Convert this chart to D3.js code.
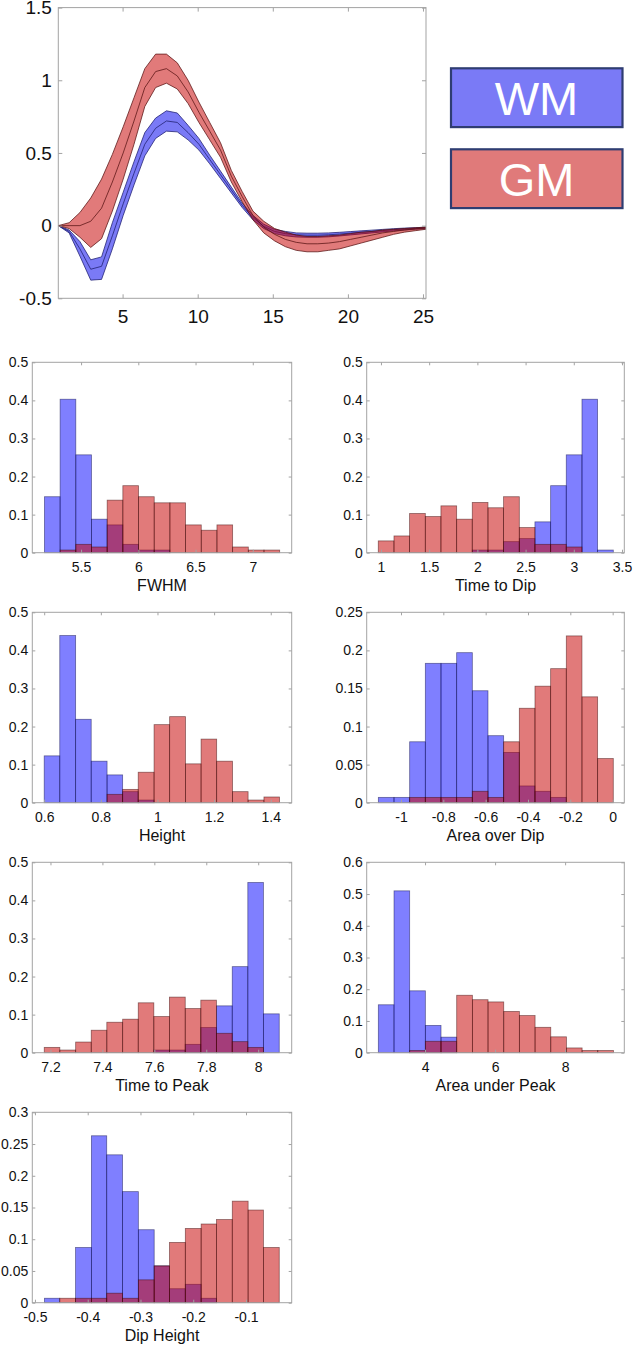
<!DOCTYPE html>
<html>
<head>
<meta charset="utf-8">
<script src="https://cdn.jsdelivr.net/npm/d3@7"></script>
<style>
  html, body { margin: 0; padding: 0; background: #fff; }
  svg { display: block; }
  text { font-family: "Liberation Sans", Arial, Helvetica, sans-serif; fill: #111; }
</style>
</head>
<body>
<svg id="chart" width="633" height="1345"></svg>
<script>
// ---------------- Top chart data (HRF shape) ----------------
const timePoints = [0.72, 1.44, 2.16, 2.88, 3.6, 4.32, 5.04, 5.76, 6.48, 7.2, 7.92, 8.64, 9.36, 10.08, 10.8,
  11.52, 12.24, 12.96, 13.68, 14.4, 15.12, 15.84, 16.56, 17.28, 18.0, 18.72, 19.44, 20.16, 20.88, 21.6,
  22.32, 23.04, 23.76, 24.48, 25.2];
const wmMean = [0, -0.04, -0.16, -0.30, -0.28, -0.07, 0.15, 0.36, 0.56, 0.67, 0.72, 0.71, 0.64, 0.56, 0.455,
  0.35, 0.245, 0.14, 0.055, -0.005, -0.04, -0.055, -0.063, -0.066, -0.066, -0.063, -0.058, -0.052, -0.046, -0.04,
  -0.034, -0.028, -0.023, -0.019, -0.016];
const wmLower = [0, -0.05, -0.21, -0.375, -0.37, -0.16, 0.07, 0.28, 0.48, 0.60, 0.65, 0.645, 0.59, 0.52, 0.425,
  0.325, 0.225, 0.125, 0.04, -0.02, -0.055, -0.07, -0.078, -0.08, -0.08, -0.077, -0.071, -0.064, -0.057, -0.05,
  -0.043, -0.036, -0.03, -0.025, -0.021];
const wmUpper = [0, -0.03, -0.11, -0.235, -0.215, 0.02, 0.23, 0.44, 0.64, 0.74, 0.79, 0.775, 0.69, 0.60, 0.485,
  0.375, 0.265, 0.155, 0.07, 0.01, -0.025, -0.04, -0.05, -0.052, -0.052, -0.05, -0.046, -0.041, -0.036, -0.031,
  -0.026, -0.021, -0.017, -0.014, -0.011];
const gmMean = [0, 0.0, 0.0, 0.03, 0.12, 0.30, 0.50, 0.72, 0.95, 1.06, 1.08, 1.03, 0.92, 0.78, 0.65,
  0.52, 0.34, 0.20, 0.07, -0.01, -0.06, -0.095, -0.115, -0.125, -0.125, -0.12, -0.11, -0.095, -0.08, -0.065,
  -0.05, -0.04, -0.03, -0.022, -0.016];
const gmLower = [0, -0.02, -0.08, -0.15, -0.09, 0.10, 0.32, 0.56, 0.82, 0.95, 0.98, 0.94, 0.84, 0.71, 0.59,
  0.47, 0.30, 0.165, 0.04, -0.05, -0.105, -0.145, -0.17, -0.18, -0.18, -0.17, -0.16, -0.14, -0.12, -0.10,
  -0.08, -0.06, -0.045, -0.035, -0.025];
const gmUpper = [0, 0.02, 0.09, 0.19, 0.32, 0.49, 0.68, 0.88, 1.08, 1.18, 1.18, 1.12, 1.00, 0.85, 0.71,
  0.57, 0.38, 0.235, 0.10, 0.03, -0.02, -0.045, -0.065, -0.075, -0.075, -0.07, -0.065, -0.055, -0.045, -0.04,
  -0.03, -0.025, -0.02, -0.015, -0.01];
const topXLimits = [0.72, 25.2];
const topYLimits = [-0.5, 1.5];
const topXTicks = [5, 10, 15, 20, 25];
const topYTicks = [-0.5, 0, 0.5, 1, 1.5];
const legendLabels = ["WM", "GM"];

// ---------------- Histogram data ----------------
const histTitles = ["FWHM", "Time to Dip", "Height", "Area over Dip", "Time to Peak", "Area under Peak", "Dip Height"];

const fwhmEdges = [5.180, 5.317, 5.454, 5.591, 5.728, 5.865, 6.002, 6.139, 6.276, 6.413, 6.550, 6.687, 6.824, 6.961, 7.098, 7.235];
const fwhmWM = [0.147, 0.403, 0.257, 0.088, 0.073, 0.022, 0.007, 0.007, 0, 0, 0, 0, 0, 0, 0];
const fwhmGM = [0, 0.007, 0.022, 0.015, 0.138, 0.176, 0.147, 0.131, 0.131, 0.073, 0.059, 0.073, 0.015, 0.007, 0.007];
const fwhmXLim = [5.074, 7.34];
const fwhmXTicks = [5.5, 6, 6.5, 7];

const dipTimeEdges = [0.972, 1.135, 1.297, 1.460, 1.622, 1.785, 1.947, 2.110, 2.272, 2.435, 2.597, 2.760, 2.922, 3.085, 3.247, 3.410];
const dipTimeWM = [0, 0, 0, 0, 0, 0, 0.007, 0.007, 0.029, 0.037, 0.081, 0.176, 0.257, 0.403, 0.007];
const dipTimeGM = [0.031, 0.044, 0.103, 0.095, 0.123, 0.088, 0.132, 0.118, 0.147, 0.066, 0.022, 0.022, 0.015, 0, 0];
const dipTimeXLim = [0.852, 3.524];
const dipTimeXTicks = [1, 1.5, 2, 2.5, 3, 3.5];

const heightEdges = [0.600, 0.655, 0.711, 0.766, 0.822, 0.877, 0.932, 0.988, 1.043, 1.099, 1.154, 1.209, 1.265, 1.320, 1.376, 1.431];
const heightWM = [0.123, 0.439, 0.219, 0.109, 0.073, 0.029, 0.007, 0, 0, 0, 0, 0, 0, 0, 0];
const heightGM = [0, 0, 0, 0, 0.022, 0.035, 0.080, 0.205, 0.226, 0.102, 0.167, 0.109, 0.029, 0.007, 0.015];
const heightXLim = [0.558, 1.474];
const heightXTicks = [0.6, 0.8, 1, 1.2, 1.4];

const areaDipEdges = [-1.107, -1.033, -0.959, -0.885, -0.811, -0.737, -0.663, -0.589, -0.515, -0.441, -0.367, -0.293, -0.219, -0.145, -0.071, 0.003];
const areaDipWM = [0.007, 0.007, 0.080, 0.183, 0.183, 0.197, 0.147, 0.088, 0.066, 0.022, 0.015, 0.007, 0, 0, 0];
const areaDipGM = [0, 0, 0.007, 0.007, 0.007, 0.007, 0.015, 0.007, 0.080, 0.124, 0.153, 0.176, 0.219, 0.139, 0.058];
const areaDipXLim = [-1.162, 0.055];
const areaDipXTicks = [-1, -0.8, -0.6, -0.4, -0.2, 0];

const peakTimeEdges = [7.176, 7.236, 7.297, 7.357, 7.417, 7.478, 7.538, 7.598, 7.658, 7.719, 7.779, 7.839, 7.900, 7.960, 8.020, 8.081];
const peakTimeWM = [0, 0, 0, 0, 0, 0, 0, 0.007, 0.007, 0.022, 0.066, 0.123, 0.226, 0.447, 0.102];
const peakTimeGM = [0.014, 0.007, 0.028, 0.059, 0.080, 0.088, 0.131, 0.095, 0.146, 0.116, 0.138, 0.051, 0.029, 0.014, 0];
const peakTimeXLim = [7.13, 8.129];
const peakTimeXTicks = [7.2, 7.4, 7.6, 7.8, 8];

const areaPeakEdges = [2.666, 3.114, 3.561, 4.009, 4.456, 4.904, 5.352, 5.799, 6.247, 6.694, 7.142, 7.590, 8.037, 8.485, 8.932, 9.380];
const areaPeakWM = [0.151, 0.510, 0.195, 0.086, 0.049, 0, 0, 0, 0, 0, 0, 0, 0, 0, 0];
const areaPeakGM = [0, 0, 0.007, 0.036, 0.036, 0.181, 0.167, 0.160, 0.130, 0.117, 0.080, 0.050, 0.015, 0.007, 0.007];
const areaPeakXLim = [2.334, 9.69];
const areaPeakXTicks = [4, 6, 8];

const dipHeightEdges = [-0.482, -0.453, -0.423, -0.393, -0.364, -0.334, -0.304, -0.274, -0.245, -0.215, -0.185, -0.156, -0.126, -0.096, -0.067, -0.037];
const dipHeightWM = [0.007, 0, 0.087, 0.263, 0.233, 0.175, 0.115, 0.058, 0.022, 0.029, 0.007, 0, 0, 0, 0];
const dipHeightGM = [0, 0.007, 0.007, 0.007, 0.015, 0.007, 0.036, 0.058, 0.095, 0.117, 0.124, 0.131, 0.160, 0.146, 0.087];
const dipHeightXLim = [-0.505, -0.0134];
const dipHeightXTicks = [-0.5, -0.4, -0.3, -0.2, -0.1];

const yLim05 = [0, 0.5];
const yTicks05 = [0, 0.1, 0.2, 0.3, 0.4, 0.5];
const yLim025 = [0, 0.25];
const yTicks025 = [0, 0.05, 0.1, 0.15, 0.2, 0.25];
const yLim06 = [0, 0.6];
const yTicks06 = [0, 0.1, 0.2, 0.3, 0.4, 0.5, 0.6];
const yLim03 = [0, 0.3];
const yTicks03 = [0, 0.05, 0.1, 0.15, 0.2, 0.25, 0.3];

// ---------------- Styling / layout ----------------
const FRAME = "#a3a3a3";
const fmt = d => String(+(+d).toFixed(3));
const svg = d3.select("#chart");

function styleAxis(g, fontSize) {
  g.select(".domain").remove();
  g.selectAll(".tick line").attr("stroke", FRAME).attr("stroke-width", 1);
  g.selectAll(".tick text").attr("font-size", fontSize).attr("fill", "#111")
    .attr("font-family", '"Liberation Sans", Arial, sans-serif');
}

function drawFrame(g, x0, y0, x1, y1, xScale, yScale, xTicks, yTicks, opt) {
  const tl = opt.tickLen;
  const bottom = g.append("g").attr("transform", `translate(0,${y1})`)
    .call(d3.axisBottom(xScale).tickValues(xTicks).tickSize(-tl).tickPadding(opt.xPad).tickFormat(fmt));
  styleAxis(bottom, opt.fontSize);
  const top = g.append("g").attr("transform", `translate(0,${y0})`)
    .call(d3.axisTop(xScale).tickValues(xTicks).tickSize(-tl).tickFormat(""));
  styleAxis(top, opt.fontSize);
  const left = g.append("g").attr("transform", `translate(${x0},0)`)
    .call(d3.axisLeft(yScale).tickValues(yTicks).tickSize(-tl).tickPadding(opt.yPad).tickFormat(fmt));
  styleAxis(left, opt.fontSize);
  const right = g.append("g").attr("transform", `translate(${x1},0)`)
    .call(d3.axisRight(yScale).tickValues(yTicks).tickSize(-tl).tickFormat(""));
  styleAxis(right, opt.fontSize);
  g.append("rect").attr("x", x0).attr("y", y0).attr("width", x1 - x0).attr("height", y1 - y0)
    .attr("fill", "none").attr("stroke", FRAME).attr("stroke-width", 1);
}

// ---------------- Top chart ----------------
(function () {
  const x0 = 58.3, x1 = 426, y0 = 7.6, y1 = 298.3;
  const x = d3.scaleLinear().domain(topXLimits).range([x0, x1]);
  const y = d3.scaleLinear().domain(topYLimits).range([y1, y0]);
  const g = svg.append("g");
  const idx = d3.range(timePoints.length);

  const series = [
    { lo: wmLower, hi: wmUpper, mean: wmMean, fill: "rgb(0,0,238)", op: 0.52, line: "#1e1e6e" },
    { lo: gmLower, hi: gmUpper, mean: gmMean, fill: "rgb(198,0,0)", op: 0.52, line: "#5a1414" }
  ];
  series.forEach(s => {
    const area = d3.area().x(i => x(timePoints[i])).y0(i => y(s.lo[i])).y1(i => y(s.hi[i]));
    g.append("path").attr("d", area(idx)).attr("fill", s.fill).attr("fill-opacity", s.op).attr("stroke", "none");
    [s.lo, s.hi, s.mean].forEach(arr => {
      const line = d3.line().x(i => x(timePoints[i])).y(i => y(arr[i]));
      g.append("path").attr("d", line(idx)).attr("fill", "none")
        .attr("stroke", s.line).attr("stroke-width", 0.9).attr("stroke-opacity", 0.85);
    });
  });

  drawFrame(g, x0, y0, x1, y1, x, y, topXTicks, topYTicks, { tickLen: 4, fontSize: 19, xPad: 11.5, yPad: 6.5 });

  // Legend
  const legendFills = ["rgb(122,122,246)", "rgb(224,122,122)"];
  const boxTop = [68.3, 149.3];
  legendLabels.forEach((lab, i) => {
    svg.append("rect").attr("x", 451).attr("y", boxTop[i]).attr("width", 171.5).attr("height", 58.8)
      .attr("fill", legendFills[i]).attr("stroke", "#2f3d72").attr("stroke-width", 2.2);
    svg.append("text").attr("x", 536.5).attr("y", boxTop[i] + 46.5).attr("text-anchor", "middle")
      .attr("font-family", 'Lato, "Open Sans", sans-serif').attr("font-size", 47)
      .style("fill", "#ffffff").text(lab);
  });
})();

// ---------------- Histograms ----------------
const panels = [
  { edges: fwhmEdges, wm: fwhmWM, gm: fwhmGM, xlim: fwhmXLim, xt: fwhmXTicks, ylim: yLim05, yt: yTicks05 },
  { edges: dipTimeEdges, wm: dipTimeWM, gm: dipTimeGM, xlim: dipTimeXLim, xt: dipTimeXTicks, ylim: yLim05, yt: yTicks05 },
  { edges: heightEdges, wm: heightWM, gm: heightGM, xlim: heightXLim, xt: heightXTicks, ylim: yLim05, yt: yTicks05 },
  { edges: areaDipEdges, wm: areaDipWM, gm: areaDipGM, xlim: areaDipXLim, xt: areaDipXTicks, ylim: yLim025, yt: yTicks025 },
  { edges: peakTimeEdges, wm: peakTimeWM, gm: peakTimeGM, xlim: peakTimeXLim, xt: peakTimeXTicks, ylim: yLim05, yt: yTicks05 },
  { edges: areaPeakEdges, wm: areaPeakWM, gm: areaPeakGM, xlim: areaPeakXLim, xt: areaPeakXTicks, ylim: yLim06, yt: yTicks06 },
  { edges: dipHeightEdges, wm: dipHeightWM, gm: dipHeightGM, xlim: dipHeightXLim, xt: dipHeightXTicks, ylim: yLim03, yt: yTicks03 }
];
const colX = [[32.3, 291.7], [366.7, 624.3]];
const rowTop = [362.3, 612.3, 862.3, 1112.3];
const panelH = 190.4;

panels.forEach((p, k) => {
  const col = k % 2, row = Math.floor(k / 2);
  const [x0, x1] = colX[col];
  const y0 = rowTop[row], y1 = y0 + panelH;
  const x = d3.scaleLinear().domain(p.xlim).range([x0, x1]);
  const y = d3.scaleLinear().domain(p.ylim).range([y1, y0]);
  const g = svg.append("g");

  const groups = [
    { vals: p.wm, fill: "rgb(0,0,255)", op: 0.5, stroke: "#10104a" },
    { vals: p.gm, fill: "rgb(198,0,0)", op: 0.52, stroke: "#3a0a0a" }
  ];
  groups.forEach(s => {
    const bins = s.vals.map((v, i) => ({ a: p.edges[i], b: p.edges[i + 1], v })).filter(d => d.v > 0);
    g.selectAll(null).data(bins).enter().append("rect")
      .attr("x", d => x(d.a)).attr("width", d => x(d.b) - x(d.a))
      .attr("y", d => y(d.v)).attr("height", d => y(0) - y(d.v))
      .attr("fill", s.fill).attr("fill-opacity", s.op)
      .attr("stroke", s.stroke).attr("stroke-opacity", 0.55).attr("stroke-width", 0.8);
  });

  drawFrame(g, x0, y0, x1, y1, x, y, p.xt, p.yt, { tickLen: 3, fontSize: 14, xPad: 9, yPad: 4 });

  g.append("text").attr("x", (x0 + x1) / 2).attr("y", y1 + 38.5).attr("text-anchor", "middle")
    .attr("font-size", 16).text(histTitles[k]);
});
</script>
</body>
</html>
